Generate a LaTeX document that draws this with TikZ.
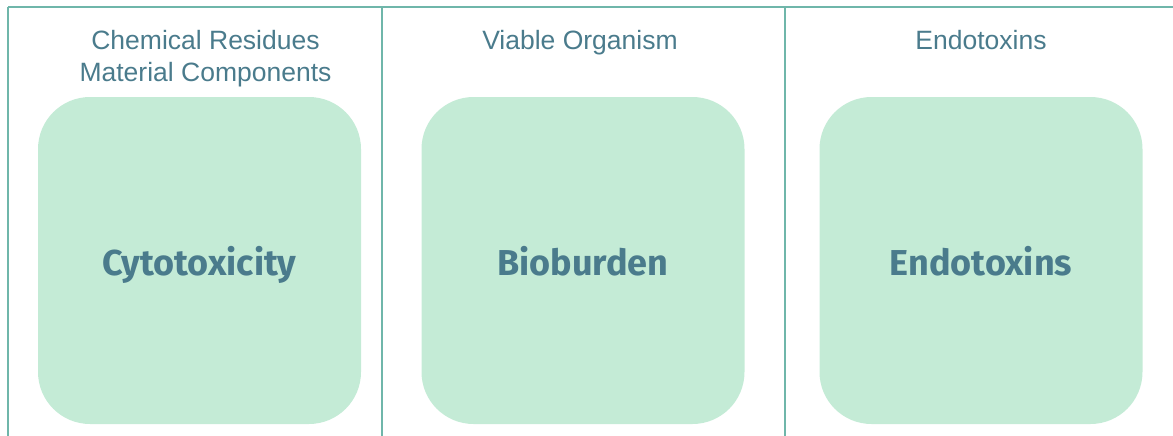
\documentclass[tikz,border=0pt]{standalone}
\usepackage{fontspec}
\setmainfont{Liberation Sans}
\newfontfamily\firafont{Fira Sans}
\definecolor{framecol}{HTML}{6FB6AA}
\definecolor{boxfill}{HTML}{C4EBD6}
\definecolor{textcol}{HTML}{4A7B8C}
\tikzset{
  testbox/.style={fill=boxfill, rounded corners=52pt, minimum width=323pt, minimum height=327pt, inner sep=0pt,
    text height=29pt, text depth=0pt,
    text=textcol, font=\firafont\bfseries\fontsize{36}{42}\selectfont},
  header/.style={text=textcol, font=\fontsize{26.5}{32}\selectfont, align=center, inner sep=0pt}
}
\begin{document}
\begin{tikzpicture}[x=1pt,y=-1pt]
\useasboundingbox (0,0) rectangle (1173,436);

\draw[framecol, line width=2pt](8,7)--(1173, 7);
\draw[framecol, line width=2pt](8,7)--(8, 436);
\draw[framecol, line width=2pt](381.5,7)--(381.5, 436);
\draw[framecol, line width=2pt](784.5,7)--(784.5, 436);

\node[header] (chem) at (205.5,59){Chemical Residues\\Material Components};
\node[header] (viable) at (580,43){Viable Organism};
\node[header] (endohead) at (981,40){Endotoxins};

\node[testbox] (cyto) at (199.5,260.5){Cytotoxicity};
\node[testbox] (bio) at (583,260.5){Bioburden};
\node[testbox] (endo) at (981,260.5){Endotoxins};

\end{tikzpicture}
\end{document}
